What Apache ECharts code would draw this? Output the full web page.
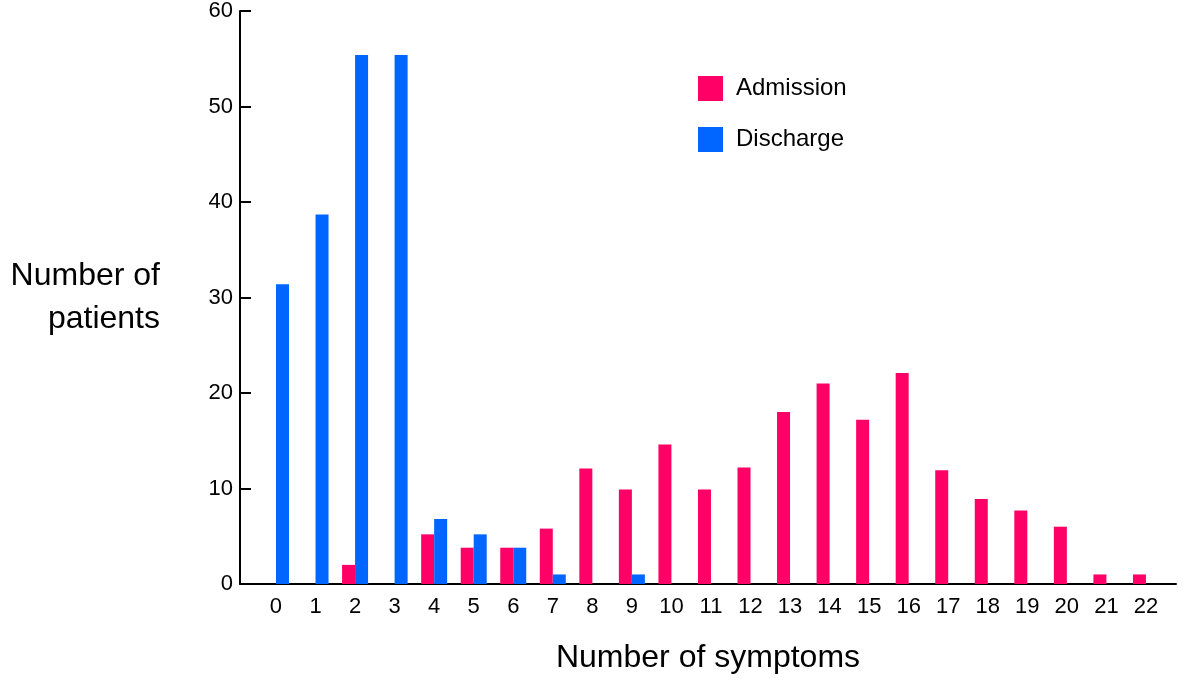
<!DOCTYPE html>
<html>
<head>
<meta charset="utf-8">
<script src="https://cdn.jsdelivr.net/npm/echarts@6/dist/echarts.min.js"></script>
<style>
html,body{margin:0;padding:0;background:#fff;}
#chart{width:1178px;height:679px;}
</style>
</head>
<body>
<div id="chart"></div>
<script>
const symptoms = [0,1,2,3,4,5,6,7,8,9,10,11,12,13,14,15,16,17,18,19,20,21,22];
const admission = [0,0,2,0,5.2,3.8,3.8,5.8,12.1,9.9,14.6,9.9,12.2,18.0,21.0,17.2,22.1,11.9,8.9,7.7,6.0,1,1];
const discharge = [31.4,38.7,55.4,55.4,6.8,5.2,3.8,1,0,1,0,0,0,0,0,0,0,0,0,0,0,0,0];
const yTicks = [0,10,20,30,40,50,60];

const FONT = '"Liberation Sans", Arial, Helvetica, sans-serif';
const chart = echarts.init(document.getElementById('chart'), null, {renderer:'canvas'});
chart.setOption({
  animation:false,
  backgroundColor:'#ffffff',
  textStyle:{fontFamily:FONT, color:'#000'},
  legend:{
    orient:'vertical', left:693, top:71,
    itemWidth:25, itemHeight:25, itemGap:26,
    icon:'rect',
    textStyle:{fontSize:24, color:'#000', fontFamily:FONT, padding:[0,0,0,8]},
    data:['Admission','Discharge']
  },
  grid:{left:240, right:2, top:10, bottom:92, containLabel:false},
  xAxis:{
    type:'value', min:-0.91, max:22.76,
    name:'Number of symptoms', nameLocation:'middle', nameGap:74,
    nameTextStyle:{fontSize:32, color:'#000', fontFamily:FONT, verticalAlign:'middle'},
    axisLine:{show:true, onZero:false, lineStyle:{color:'#000', width:2}},
    axisTick:{show:false},
    splitLine:{show:false},
    axisLabel:{customValues:symptoms, fontSize:22, color:'#000', fontFamily:FONT, margin:12}
  },
  yAxis:{
    type:'value', min:yTicks[0], max:yTicks[yTicks.length-1], interval:10,
    name:'Number of\npatients', nameLocation:'middle', nameGap:80, nameRotate:0,
    nameTextStyle:{fontSize:32, color:'#000', fontFamily:FONT, align:'right', verticalAlign:'middle', lineHeight:43},
    axisLine:{show:true, onZero:false, lineStyle:{color:'#000', width:2}},
    axisTick:{show:true, inside:true, length:11, lineStyle:{color:'#000', width:2}},
    splitLine:{show:false},
    axisLabel:{fontSize:22, color:'#000', fontFamily:FONT, margin:7}
  },
  series:[
    {name:'Admission', type:'bar', barWidth:13, barGap:'0%',
     itemStyle:{color:'#FF0066'},
     data:symptoms.map((s,i)=>[s, admission[i]])},
    {name:'Discharge', type:'bar', barWidth:13, barGap:'0%',
     itemStyle:{color:'#0066FF'},
     data:symptoms.map((s,i)=>[s, discharge[i]])}
  ]
});
</script>
</body>
</html>
